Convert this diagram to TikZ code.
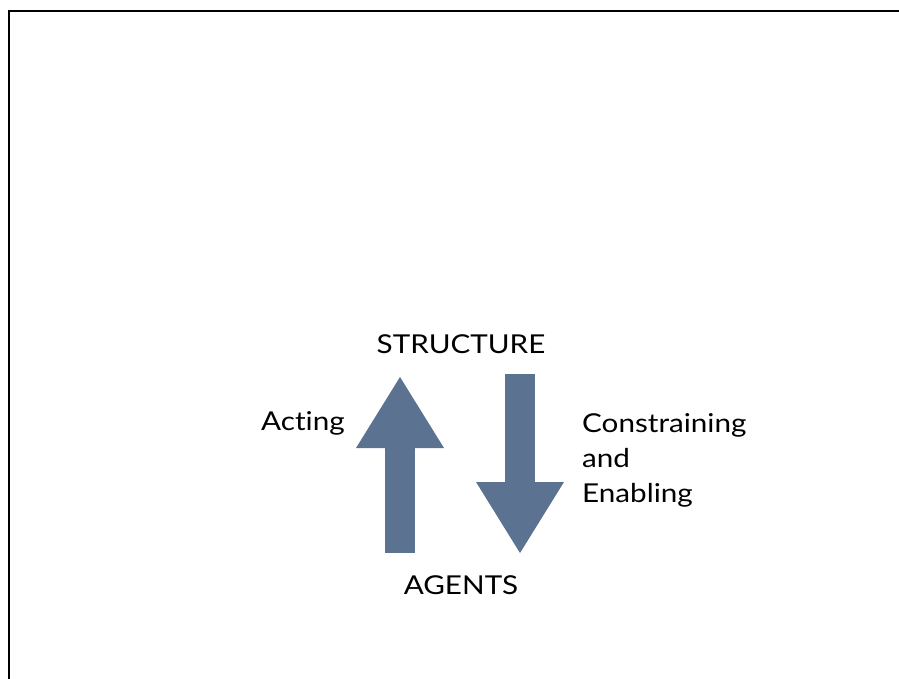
\documentclass[tikz,border=0pt]{standalone}
\usepackage{fontspec}
\setmainfont{Lato}[FakeStretch=1.14,Ligatures=NoCommon]
\usetikzlibrary{arrows.meta}
\definecolor{slate}{RGB}{91,115,145}

\begin{document}
\begin{tikzpicture}[x=1pt,y=-1pt,
  label/.style={inner sep=0pt,font=\fontsize{26}{35}\selectfont},
  blockarrow/.style={draw=slate,line width=30pt,
    -{Triangle[width=88pt,length=71pt,line width=0pt,fill=slate]}}]
\useasboundingbox (0,0) rectangle (899,679);
\draw[line width=2pt] (9,680) -- (9,11) -- (900,11);
\node[label,anchor=base] (struct) at (461,353) {STRUCTURE};
\node[label,anchor=base] (agents) at (461,594) {AGENTS};
\node[label,anchor=base west] (acting) at (261,430) {Acting};
\node[label,anchor=north west,align=left] (constr) at (582,413) {Constraining\\and\\Enabling};
\coordinate (up-s) at (400,553);
\coordinate (up-e) at (400,377);
\coordinate (dn-s) at (520,374);
\coordinate (dn-e) at (520,553);
\draw[blockarrow] (up-s) -- (up-e);
\draw[blockarrow] (dn-s) -- (dn-e);
%\draw[blockarrow] (agents) -- (struct);
\end{tikzpicture}
\end{document}
